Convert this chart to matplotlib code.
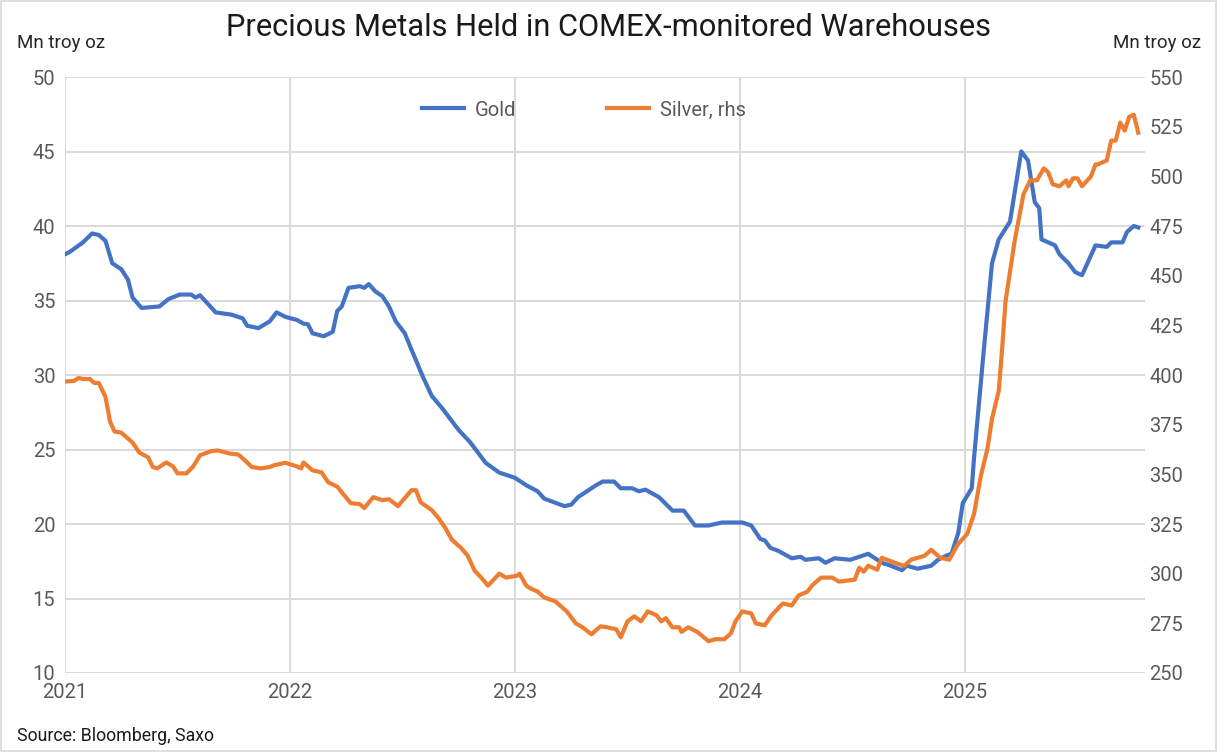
import numpy as np
import matplotlib.pyplot as plt

# COMEX warehouse stocks (decimal year, Mn troy oz)
gold_t = [2021.00, 2021.02, 2021.08, 2021.12, 2021.15, 2021.18, 2021.21, 2021.25, 2021.28, 2021.30,
          2021.34, 2021.42, 2021.46, 2021.51, 2021.56, 2021.58, 2021.60, 2021.67, 2021.74, 2021.79,
          2021.81, 2021.86, 2021.91, 2021.94, 2021.98, 2022.03, 2022.06, 2022.08, 2022.10, 2022.15,
          2022.19, 2022.21, 2022.23, 2022.26, 2022.31, 2022.33, 2022.35, 2022.38, 2022.41, 2022.44,
          2022.47, 2022.51, 2022.54, 2022.59, 2022.63, 2022.68, 2022.75, 2022.80, 2022.87, 2022.93,
          2023.00, 2023.05, 2023.10, 2023.13, 2023.22, 2023.25, 2023.28, 2023.36, 2023.39, 2023.44,
          2023.47, 2023.52, 2023.55, 2023.58, 2023.64, 2023.70, 2023.75, 2023.80, 2023.86, 2023.92,
          2024.01, 2024.05, 2024.09, 2024.11, 2024.135, 2024.17, 2024.23, 2024.27, 2024.29, 2024.35,
          2024.38, 2024.42, 2024.49, 2024.53, 2024.57, 2024.63, 2024.67, 2024.72, 2024.74, 2024.79,
          2024.85, 2024.88, 2024.92, 2024.94, 2024.97, 2024.99, 2025.03, 2025.04, 2025.08, 2025.12,
          2025.15, 2025.20, 2025.25, 2025.28, 2025.31, 2025.33, 2025.34, 2025.40, 2025.42, 2025.46,
          2025.49, 2025.52, 2025.55, 2025.58, 2025.63, 2025.65, 2025.70, 2025.72, 2025.75, 2025.77]
gold = [38.1, 38.25, 38.9, 39.5, 39.4, 39.0, 37.5, 37.1, 36.4, 35.2,
        34.5, 34.6, 35.1, 35.4, 35.4, 35.2, 35.35, 34.2, 34.05, 33.8,
        33.3, 33.15, 33.6, 34.2, 33.9, 33.7, 33.45, 33.4, 32.8, 32.6,
        32.9, 34.3, 34.6, 35.85, 35.96, 35.85, 36.1, 35.6, 35.3, 34.6,
        33.6, 32.8, 31.7, 29.9, 28.6, 27.7, 26.3, 25.5, 24.1, 23.45,
        23.1, 22.6, 22.2, 21.7, 21.2, 21.3, 21.8, 22.6, 22.85, 22.85,
        22.4, 22.4, 22.2, 22.3, 21.8, 20.9, 20.9, 19.9, 19.9, 20.1,
        20.1, 19.9, 19.0, 18.9, 18.4, 18.2, 17.7, 17.8, 17.6, 17.7,
        17.4, 17.7, 17.6, 17.8, 18.0, 17.4, 17.2, 16.9, 17.2, 17.0,
        17.2, 17.6, 17.9, 18.0, 19.4, 21.4, 22.4, 24.4, 31.1, 37.5,
        39.1, 40.3, 45.0, 44.4, 41.6, 41.2, 39.1, 38.7, 38.1, 37.5,
        36.9, 36.7, 37.7, 38.7, 38.6, 38.9, 38.9, 39.6, 40.0, 39.9]

silver_t = [2021.00, 2021.04, 2021.06, 2021.08, 2021.11, 2021.13, 2021.15, 2021.18, 2021.20, 2021.22,
            2021.25, 2021.27, 2021.30, 2021.33, 2021.37, 2021.39, 2021.41, 2021.45, 2021.48, 2021.50,
            2021.54, 2021.57, 2021.60, 2021.65, 2021.68, 2021.73, 2021.77, 2021.80, 2021.83, 2021.87,
            2021.91, 2021.93, 2021.98, 2022.03, 2022.05, 2022.06, 2022.10, 2022.14, 2022.17, 2022.21,
            2022.24, 2022.27, 2022.31, 2022.33, 2022.37, 2022.41, 2022.44, 2022.48, 2022.51, 2022.54,
            2022.56, 2022.58, 2022.63, 2022.66, 2022.69, 2022.72, 2022.76, 2022.79, 2022.82, 2022.85,
            2022.88, 2022.93, 2022.96, 2023.01, 2023.02, 2023.05, 2023.07, 2023.10, 2023.13, 2023.18,
            2023.23, 2023.27, 2023.30, 2023.34, 2023.38, 2023.41, 2023.45, 2023.47, 2023.50, 2023.53,
            2023.56, 2023.59, 2023.63, 2023.65, 2023.67, 2023.70, 2023.73, 2023.74, 2023.77, 2023.81,
            2023.86, 2023.89, 2023.93, 2023.96, 2023.98, 2024.01, 2024.05, 2024.07, 2024.11, 2024.14,
            2024.19, 2024.23, 2024.26, 2024.30, 2024.32, 2024.36, 2024.41, 2024.44, 2024.51, 2024.53,
            2024.55, 2024.57, 2024.61, 2024.63, 2024.70, 2024.73, 2024.76, 2024.82, 2024.85, 2024.89,
            2024.93, 2024.97, 2025.01, 2025.04, 2025.07, 2025.10, 2025.12, 2025.15, 2025.165, 2025.18,
            2025.22, 2025.26, 2025.29, 2025.32, 2025.35, 2025.37, 2025.39, 2025.42, 2025.45, 2025.46,
            2025.48, 2025.50, 2025.52, 2025.56, 2025.58, 2025.59, 2025.63, 2025.65, 2025.67, 2025.69,
            2025.71, 2025.73, 2025.75, 2025.77]
silver = [396.7, 397, 398.5, 398, 398, 396, 396, 389, 376.6, 371.6,
          371, 369, 366, 361, 358.5, 353.7, 353, 356, 354, 350.5,
          350.5, 354, 359.6, 361.7, 362, 360.5, 360, 357, 353.7, 353,
          353.7, 354.6, 355.8, 354, 353, 356, 352, 351, 346, 343.8,
          339.6, 335.5, 335, 333, 338.5, 337, 337.5, 334, 338, 342,
          342, 336, 332, 328, 323, 317, 313, 309, 301.6, 298,
          294, 300, 298, 299, 300, 294, 292.5, 291, 288, 286,
          281, 275, 273, 269.5, 273.5, 273, 272, 268, 276, 278.5,
          276, 281, 279, 276, 277.6, 273, 273, 270.7, 273, 270.7,
          266, 267, 267, 270, 276, 281, 280, 275, 274, 279,
          285, 284, 289, 291, 294, 298, 298, 296, 297, 303,
          301, 304, 302, 308, 305, 304, 307, 309, 312, 308,
          307, 315, 320, 330, 349, 363, 378, 392, 413, 437,
          467, 491, 498, 498, 504, 502, 496, 495, 498, 495,
          499, 499, 495, 500, 506, 506, 508, 518, 518, 527,
          523, 530, 531, 522]

years = [2021, 2022, 2023, 2024, 2025]

plt.rcParams['font.family'] = ['Roboto', 'DejaVu Sans']

fig = plt.figure(figsize=(12.17, 7.52), dpi=100)
ax1 = fig.add_axes([65 / 1217, 1 - 673 / 752, 1080 / 1217, 596 / 752])
ax2 = ax1.twinx()

grid_c = '#d9d9d9'
tick_c = '#595959'

l1, = ax1.plot(gold_t, gold, color='#4472C4', lw=3, label='Gold', solid_joinstyle='round')
l2, = ax2.plot(silver_t, silver, color='#ED7D31', lw=3, label='Silver, rhs', solid_joinstyle='round')
ax1.set_zorder(2)
ax2.set_zorder(3)

ax1.set_xlim(2021, 2025.8)
ax1.set_ylim(10, 50)
ax2.set_ylim(250, 550)
ax1.set_yticks(np.arange(10, 51, 5))
ax2.set_yticks(np.arange(250, 551, 25))
ax1.set_xticks(years)
ax1.set_xticklabels([str(y) for y in years])

ax1.grid(True, color=grid_c, lw=1.4)
ax1.set_axisbelow(True)
for a in (ax1, ax2):
    for s in a.spines.values():
        s.set_visible(False)
    a.tick_params(length=0, labelsize=14.5, colors=tick_c)
ax1.tick_params(axis='y', pad=7)
ax1.tick_params(axis='x', pad=7)
ax2.tick_params(axis='y', pad=3)

fig.text(17 / 1217, 1 - 43 / 752, 'Mn troy oz', fontsize=13.5, color='#262626', va='center', ha='left')
fig.text(1201 / 1217, 1 - 43 / 752, 'Mn troy oz', fontsize=13.5, color='#262626', va='center', ha='right')
fig.text(608 / 1217, 1 - 27 / 752, 'Precious Metals Held in COMEX-monitored Warehouses',
         fontsize=22.2, color='#1a1a1a', ha='center', va='center')
fig.text(17 / 1217, 1 - 736 / 752, 'Source: Bloomberg, Saxo', fontsize=12.8, color='#1a1a1a',
         ha='left', va='center')

fig.legend(handles=[l1, l2], loc='center', bbox_to_anchor=(584 / 1217, 1 - 110 / 752), ncol=2,
           frameon=False, fontsize=14.5, handlelength=2.1, columnspacing=4.5, handletextpad=0.55,
           labelcolor=tick_c)

# light chart border
fig.patches.append(plt.Rectangle((0.001, 0.001), 0.998, 0.998, transform=fig.transFigure,
                                 fill=False, edgecolor='#d9d9d9', lw=1.2))

fig.savefig('out.png', dpi=100)
